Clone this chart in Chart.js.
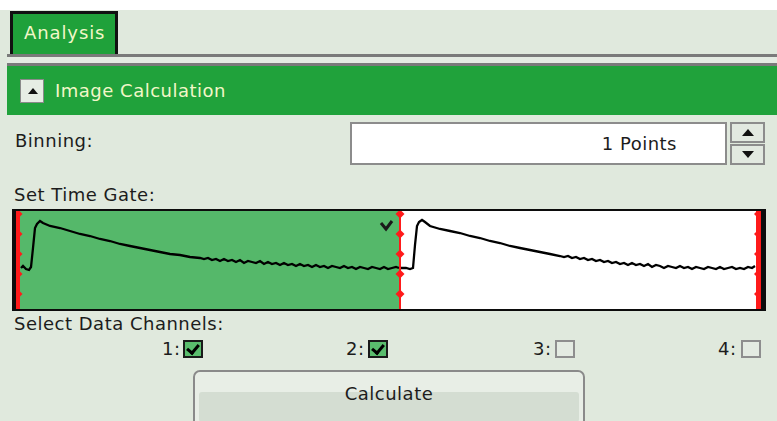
<!DOCTYPE html>
<html>
<head>
<meta charset="utf-8">
<script src="https://cdn.jsdelivr.net/npm/chart.js@4.4.1/dist/chart.umd.min.js"></script>
<style>
  html, body { margin: 0; padding: 0; }
  body { width: 777px; height: 421px; background: #e0e9dd; position: relative; overflow: hidden;
         font-family: "DejaVu Sans", sans-serif; color: #1c1c1c; font-size: 18px; letter-spacing: 0.5px; }
  .abs { position: absolute; }
  #topStrip { left: 0; top: 0; width: 777px; height: 10px; background: #fff; }
  #tab { left: 10px; top: 11px; width: 91px; height: 45px; background: #1fa13a; border: 3px solid #111; border-bottom: none;
         color: #f2f7c8; line-height: 38px; padding-left: 11px; letter-spacing: 0.9px; }
  #sep { left: 7px; top: 54px; width: 770px; height: 12px; background: #e4ebe2; border-top: 3px solid #7a7a7a; border-bottom: 3px solid #7a7a7a; box-sizing: border-box; }
  #header { left: 7px; top: 66px; width: 770px; height: 49px; background: #20a23b; }
  #collapse { left: 20px; top: 79px; width: 24px; height: 24px; background: #e6ede4; border: 1px solid #8a8a8a; box-sizing: border-box; }
  #collapse::after { content: ""; position: absolute; left: 7px; top: 8px; border-left: 5px solid transparent; border-right: 5px solid transparent; border-bottom: 6px solid #111; }
  #headerText { left: 55px; top: 80px; color: #f2f7c8; }
  .label { white-space: nowrap; }
  #binBox { left: 350px; top: 122px; width: 377px; height: 43px; background: #fff; border: 2px solid #8c8c8c; box-sizing: border-box;
            text-align: right; padding-right: 48px; line-height: 39px; }
  .spin { left: 730px; width: 35px; height: 21px; background: #e2e9e0; border: 2px solid #8c8c8c; box-sizing: border-box; }
  .spin::after { content: ""; position: absolute; left: 10px; border-left: 6px solid transparent; border-right: 6px solid transparent; }
  #spinUp { top: 122px; }
  #spinUp::after { top: 5px; border-bottom: 7px solid #111; }
  #spinDown { top: 144px; }
  #spinDown::after { top: 5px; border-top: 7px solid #111; }
  #gateBox { left: 12px; top: 209px; width: 745px; height: 98px; border-style: solid; border-color: #0c0c0c; border-width: 2px 5px 2px 4px; }
  #gate { display: block; background: #fff; }
  .chan { top: 338px; white-space: nowrap; }
  .box { position: absolute; top: 2px; width: 20px; height: 18px; box-sizing: border-box; }
  .on { background: #5abd6d; border: 2px solid #1a1a1a; }
  .on::after { content: ""; position: absolute; left: 4px; top: 0px; width: 5px; height: 9px; border-right: 3px solid #000; border-bottom: 3px solid #000; transform: rotate(40deg); }
  .off { background: #e4ebe2; border: 2px solid #8e8e8e; }
  #calc { left: 193px; top: 370px; width: 392px; height: 60px; border: 2px solid #8a8a8a; border-radius: 7px; background: #e8eee6; box-sizing: border-box; }
  #calcLow { left: 199px; top: 392px; width: 380px; height: 30px; background: #d4ddd2; border-radius: 3px; }
  #calcText { left: 193px; top: 383px; width: 392px; text-align: center; }
</style>
</head>
<body>
<div id="topStrip" class="abs"></div>
<div id="tab" class="abs">Analysis</div>
<div id="sep" class="abs"></div>
<div id="header" class="abs"></div>
<div id="collapse" class="abs"></div>
<div id="headerText" class="abs">Image Calculation</div>

<div class="abs label" style="left:15px; top:130px;">Binning:</div>
<div id="binBox" class="abs">1 Points</div>
<div id="spinUp" class="abs spin"></div>
<div id="spinDown" class="abs spin"></div>

<div class="abs label" style="left:14px; top:184px;">Set Time Gate:</div>
<div id="gateBox" class="abs"><canvas id="gate" width="745" height="98"></canvas></div>

<div class="abs label" style="left:14px; top:313px;">Select Data Channels:</div>
<div class="abs chan" style="left:162px;">1:</div><span class="abs box on" style="left:183px; top:340px;"></span>
<div class="abs chan" style="left:346px;">2:</div><span class="abs box on" style="left:368px; top:340px;"></span>
<div class="abs chan" style="left:533px;">3:</div><span class="abs box off" style="left:555px; top:340px;"></span>
<div class="abs chan" style="left:718px;">4:</div><span class="abs box off" style="left:741px; top:340px;"></span>

<div id="calc" class="abs"></div>
<div id="calcLow" class="abs"></div>
<div id="calcText" class="abs">Calculate</div>

<script>
// time gate (x in bins across the whole strip, y in counts scale 0..98)
const gateStart = 4;
const gateEnd = 384;
const gateMarkers = [15, 35, 55, 75, 95];

// channel 1 decay
const ch1Time = [5, 7, 10, 13, 15, 17, 19, 21, 24, 27, 34, 44, 54, 64, 74, 84, 94, 104, 114, 124, 134, 144, 154, 164, 174, 184,
  188, 192, 196, 200, 204, 208, 212, 216, 220, 224, 228, 232, 236, 240, 244, 248, 252, 256, 260, 264, 268, 272, 276, 280,
  284, 288, 292, 296, 300, 304, 308, 312, 316, 320, 324, 328, 332, 336, 340, 344, 348, 352, 356, 360, 364, 368, 372, 376, 380, 383];
const ch1Counts = [41, 43, 40, 39, 42, 61, 81, 85, 88, 86, 83, 81, 78, 75, 73, 70, 68, 65, 63, 61, 59, 57, 55, 54, 52, 51,
  50, 51, 49, 50, 48, 50, 48, 49, 47, 49, 46, 48, 47, 46, 48, 45, 47, 45, 46, 44, 46, 44, 45, 43,
  45, 43, 44, 42, 44, 42, 43, 41, 43, 42, 41, 43, 41, 42, 40, 42, 41, 40, 42, 41, 40, 42, 40, 41, 42, 41];

// channel 2 decay
const ch2Time = [385, 390, 394, 397, 399, 401, 403, 406, 409, 414, 424, 434, 444, 454, 464, 474, 484, 494, 504, 514, 524, 534, 544,
  548, 552, 556, 560, 564, 568, 572, 576, 580, 584, 588, 592, 596, 600, 604, 608, 612, 616, 620, 624, 628, 632, 636, 640,
  644, 648, 652, 656, 660, 664, 668, 672, 676, 680, 684, 688, 692, 696, 700, 704, 708, 712, 716, 720, 724, 728, 732, 736, 739];
const ch2Counts = [41, 41, 40, 41, 64, 83, 87, 89, 87, 83, 80, 78, 76, 73, 71, 68, 66, 63, 61, 59, 57, 55, 53,
  52, 53, 51, 52, 50, 51, 49, 50, 48, 49, 47, 48, 46, 47, 45, 46, 44, 46, 44, 45, 43, 45, 42, 44,
  43, 41, 43, 42, 41, 43, 41, 42, 40, 42, 41, 40, 42, 41, 40, 42, 40, 41, 42, 40, 41, 40, 42, 41, 43];

const yMax = 98;

function pairs(xs, ys) {
  return xs.map((x, i) => ({ x: x, y: ys[i] }));
}

// vertical red gate line with diamond handles
function gateLine(x, width) {
  const ys = [0].concat(gateMarkers, [yMax]);
  return {
    data: ys.map(y => ({ x: x, y: y })),
    borderColor: '#ff1a1a',
    borderWidth: width,
    pointStyle: 'rectRot',
    pointRadius: ys.map(y => (y === 0 || y === yMax) ? 0 : 4.5),
    pointBackgroundColor: '#ff1a1a',
    pointBorderWidth: 0,
    fill: false
  };
}

// little check mark in the active gate
const checkMark = {
  id: 'checkMark',
  afterDatasetsDraw(chart) {
    const x = chart.scales.x.getPixelForValue(gateEnd);
    const y = chart.scales.y.getPixelForValue(yMax);
    const c = chart.ctx;
    c.save();
    c.strokeStyle = '#1a1a1a';
    c.lineWidth = 3;
    c.beginPath();
    c.moveTo(x - 19, y + 12);
    c.lineTo(x - 14, y + 18);
    c.lineTo(x - 8, y + 10);
    c.stroke();
    c.restore();
  }
};

new Chart(document.getElementById('gate'), {
  type: 'line',
  data: {
    datasets: [
      gateLine(2, 4),
      gateLine(gateEnd, 2),
      gateLine(742.5, 5),
      { data: pairs(ch1Time, ch1Counts), borderColor: '#000', borderWidth: 2.3, pointRadius: 0, tension: 0, fill: false },
      { data: pairs(ch2Time, ch2Counts), borderColor: '#000', borderWidth: 2.3, pointRadius: 0, tension: 0, fill: false },
      { data: [{ x: gateStart, y: yMax }, { x: gateEnd, y: yMax }], borderWidth: 0, pointRadius: 0,
        backgroundColor: '#55b86a', fill: 'start' }
    ]
  },
  options: {
    responsive: false,
    animation: false,
    events: [],
    layout: { padding: 0 },
    plugins: { legend: { display: false }, tooltip: { enabled: false } },
    scales: {
      x: { type: 'linear', display: false, min: 0, max: 745 },
      y: { display: false, min: 0, max: yMax }
    }
  },
  plugins: [checkMark]
});
</script>
</body>
</html>
